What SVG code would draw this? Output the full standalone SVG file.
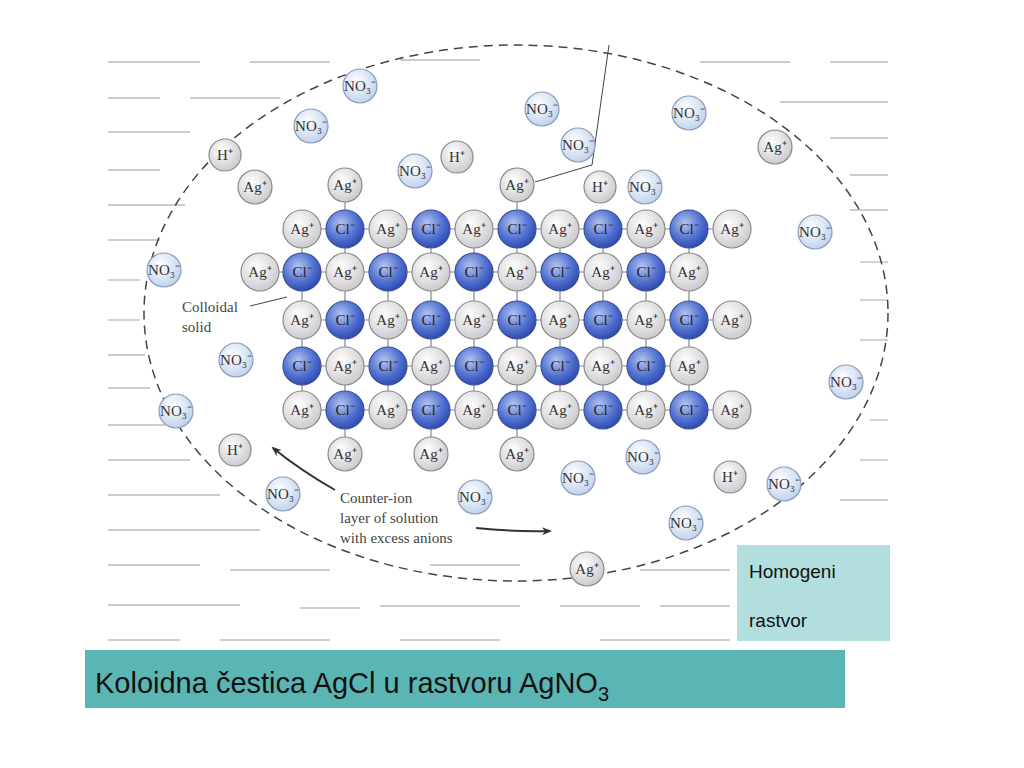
<svg xmlns="http://www.w3.org/2000/svg" width="1024" height="768" viewBox="0 0 1024 768">
<defs>
<radialGradient id="gAg" cx="40%" cy="35%" r="70%"><stop offset="0" stop-color="#ffffff"/><stop offset="1" stop-color="#c8c8cc"/></radialGradient>
<radialGradient id="gCl" cx="40%" cy="35%" r="70%"><stop offset="0" stop-color="#b4c4f0"/><stop offset="0.6" stop-color="#5070d0"/><stop offset="1" stop-color="#2a44a8"/></radialGradient>
<radialGradient id="gNO" cx="40%" cy="35%" r="70%"><stop offset="0" stop-color="#ffffff"/><stop offset="1" stop-color="#bcd0ec"/></radialGradient>
<marker id="ah" markerWidth="10" markerHeight="8" refX="8" refY="4" orient="auto" markerUnits="userSpaceOnUse"><path d="M0,0 L10,4 L0,8 L3,4 Z" fill="#333"/></marker>
<style>
.ag{fill:url(#gAg);stroke:#8a8a8a;stroke-width:1.2}
.cl{fill:url(#gCl);stroke:#3a4f9a;stroke-width:1.2}
.no{fill:url(#gNO);stroke:#8a9cb8;stroke-width:1.2}
.h{fill:url(#gAg);stroke:#8a8a8a;stroke-width:1.2}
.t{font-family:"Liberation Serif",serif;font-size:15px;fill:#333;text-anchor:middle}
.tc{font-family:"Liberation Serif",serif;font-size:15px;fill:#222;text-anchor:middle}
.bg{stroke:#bbb;stroke-width:1.3}
.grid{stroke:#888;stroke-width:1.2}
.lab{font-family:"Liberation Serif",serif;font-size:15px;fill:#444}
</style>
</defs>
<rect width="1024" height="768" fill="#fff"/>
<g id="background-lines" class="bg">
<line x1="108" y1="62" x2="200" y2="62"/><line x1="250" y1="62" x2="330" y2="62"/><line x1="400" y1="60" x2="480" y2="60"/><line x1="700" y1="62" x2="790" y2="62"/><line x1="830" y1="62" x2="888" y2="62"/>
<line x1="108" y1="98" x2="160" y2="98"/><line x1="190" y1="98" x2="280" y2="98"/><line x1="780" y1="102" x2="888" y2="102"/>
<line x1="108" y1="132" x2="190" y2="132"/><line x1="830" y1="138" x2="888" y2="138"/>
<line x1="108" y1="170" x2="160" y2="170"/><line x1="850" y1="175" x2="888" y2="175"/>
<line x1="108" y1="205" x2="185" y2="205"/><line x1="850" y1="210" x2="888" y2="210"/>
<line x1="108" y1="240" x2="160" y2="240"/><line x1="860" y1="262" x2="888" y2="262"/>
<line x1="108" y1="280" x2="140" y2="280"/><line x1="860" y1="300" x2="888" y2="300"/>
<line x1="108" y1="320" x2="140" y2="320"/><line x1="860" y1="340" x2="888" y2="340"/>
<line x1="108" y1="355" x2="145" y2="355"/><line x1="870" y1="420" x2="888" y2="420"/>
<line x1="108" y1="388" x2="150" y2="388"/><line x1="860" y1="460" x2="888" y2="460"/>
<line x1="108" y1="425" x2="165" y2="425"/><line x1="840" y1="500" x2="888" y2="500"/>
<line x1="108" y1="460" x2="190" y2="460"/>
<line x1="108" y1="495" x2="220" y2="495"/>
<line x1="108" y1="530" x2="260" y2="530"/>
<line x1="108" y1="565" x2="200" y2="565"/><line x1="230" y1="570" x2="330" y2="570"/><line x1="430" y1="565" x2="520" y2="565"/><line x1="640" y1="570" x2="730" y2="570"/>
<line x1="108" y1="605" x2="240" y2="605"/><line x1="300" y1="608" x2="360" y2="608"/><line x1="380" y1="606" x2="520" y2="606"/><line x1="560" y1="606" x2="640" y2="606"/><line x1="660" y1="606" x2="730" y2="606"/>
<line x1="108" y1="640" x2="180" y2="640"/><line x1="220" y1="640" x2="330" y2="640"/><line x1="400" y1="640" x2="500" y2="640"/><line x1="600" y1="640" x2="730" y2="640"/>
</g>
<ellipse id="boundary" cx="516" cy="313" rx="372" ry="268" fill="none" stroke="#444" stroke-width="1.5" stroke-dasharray="9,6"/>
<g id="connectors" fill="none">
<g class="grid">
<line x1="302" y1="229" x2="732" y2="229"/><line x1="260" y1="272" x2="689" y2="272"/><line x1="302" y1="320" x2="732" y2="320"/><line x1="302" y1="366" x2="689" y2="366"/><line x1="302" y1="410" x2="732" y2="410"/>
<line x1="302" y1="229" x2="302" y2="410"/><line x1="345" y1="185" x2="345" y2="454"/><line x1="388" y1="229" x2="388" y2="410"/><line x1="431" y1="229" x2="431" y2="454"/><line x1="474" y1="229" x2="474" y2="410"/><line x1="517" y1="185" x2="517" y2="454"/><line x1="560" y1="229" x2="560" y2="410"/><line x1="603" y1="229" x2="603" y2="410"/><line x1="646" y1="229" x2="646" y2="410"/><line x1="689" y1="229" x2="689" y2="410"/><line x1="732" y1="229" x2="732" y2="229"/>
<line x1="732" y1="320" x2="732" y2="320"/>
</g>
<line x1="609" y1="45" x2="592" y2="165" stroke="#444" stroke-width="1"/>
<line x1="592" y1="165" x2="535" y2="182" stroke="#444" stroke-width="1"/>
<line x1="250" y1="306" x2="287" y2="297" stroke="#444" stroke-width="1"/>
<path d="M335,490 Q300,470 273,448" stroke="#333" stroke-width="2" marker-end="url(#ah)"/>
<path d="M476,528 Q515,532 550,531" stroke="#333" stroke-width="2" marker-end="url(#ah)"/>
</g>
<g id="lattice">
<g id="ag1"><circle class="ag" cx="302" cy="229" r="19"/><circle class="cl" cx="345" cy="229" r="19"/><circle class="ag" cx="388" cy="229" r="19"/><circle class="cl" cx="431" cy="229" r="19"/><circle class="ag" cx="474" cy="229" r="19"/><circle class="cl" cx="517" cy="229" r="19"/><circle class="ag" cx="560" cy="229" r="19"/><circle class="cl" cx="603" cy="229" r="19"/><circle class="ag" cx="646" cy="229" r="19"/><circle class="cl" cx="689" cy="229" r="19"/><circle class="ag" cx="732" cy="229" r="19"/></g>
<g id="ag2"><circle class="ag" cx="260" cy="272" r="19"/><circle class="cl" cx="302" cy="272" r="19"/><circle class="ag" cx="345" cy="272" r="19"/><circle class="cl" cx="388" cy="272" r="19"/><circle class="ag" cx="431" cy="272" r="19"/><circle class="cl" cx="474" cy="272" r="19"/><circle class="ag" cx="517" cy="272" r="19"/><circle class="cl" cx="560" cy="272" r="19"/><circle class="ag" cx="603" cy="272" r="19"/><circle class="cl" cx="646" cy="272" r="19"/><circle class="ag" cx="689" cy="272" r="19"/></g>
<g id="ag3"><circle class="ag" cx="302" cy="320" r="19"/><circle class="cl" cx="345" cy="320" r="19"/><circle class="ag" cx="388" cy="320" r="19"/><circle class="cl" cx="431" cy="320" r="19"/><circle class="ag" cx="474" cy="320" r="19"/><circle class="cl" cx="517" cy="320" r="19"/><circle class="ag" cx="560" cy="320" r="19"/><circle class="cl" cx="603" cy="320" r="19"/><circle class="ag" cx="646" cy="320" r="19"/><circle class="cl" cx="689" cy="320" r="19"/><circle class="ag" cx="732" cy="320" r="19"/></g>
<g id="ag4"><circle class="cl" cx="302" cy="366" r="19"/><circle class="ag" cx="345" cy="366" r="19"/><circle class="cl" cx="388" cy="366" r="19"/><circle class="ag" cx="431" cy="366" r="19"/><circle class="cl" cx="474" cy="366" r="19"/><circle class="ag" cx="517" cy="366" r="19"/><circle class="cl" cx="560" cy="366" r="19"/><circle class="ag" cx="603" cy="366" r="19"/><circle class="cl" cx="646" cy="366" r="19"/><circle class="ag" cx="689" cy="366" r="19"/></g>
<g id="ag5"><circle class="ag" cx="302" cy="410" r="19"/><circle class="cl" cx="345" cy="410" r="19"/><circle class="ag" cx="388" cy="410" r="19"/><circle class="cl" cx="431" cy="410" r="19"/><circle class="ag" cx="474" cy="410" r="19"/><circle class="cl" cx="517" cy="410" r="19"/><circle class="ag" cx="560" cy="410" r="19"/><circle class="cl" cx="603" cy="410" r="19"/><circle class="ag" cx="646" cy="410" r="19"/><circle class="cl" cx="689" cy="410" r="19"/><circle class="ag" cx="732" cy="410" r="19"/></g>
<circle class="ag" cx="345" cy="185" r="17"/><circle class="ag" cx="517" cy="185" r="17"/>
<circle class="ag" cx="345" cy="454" r="17"/><circle class="ag" cx="431" cy="454" r="17"/><circle class="ag" cx="517" cy="454" r="17"/>
<g class="t">
<text x="302" y="234">Ag⁺</text><text x="388" y="234">Ag⁺</text><text x="474" y="234">Ag⁺</text><text x="560" y="234">Ag⁺</text><text x="646" y="234">Ag⁺</text><text x="732" y="234">Ag⁺</text>
<text x="260" y="277">Ag⁺</text><text x="345" y="277">Ag⁺</text><text x="431" y="277">Ag⁺</text><text x="517" y="277">Ag⁺</text><text x="603" y="277">Ag⁺</text><text x="689" y="277">Ag⁺</text>
<text x="302" y="325">Ag⁺</text><text x="388" y="325">Ag⁺</text><text x="474" y="325">Ag⁺</text><text x="560" y="325">Ag⁺</text><text x="646" y="325">Ag⁺</text><text x="732" y="325">Ag⁺</text>
<text x="345" y="371">Ag⁺</text><text x="431" y="371">Ag⁺</text><text x="517" y="371">Ag⁺</text><text x="603" y="371">Ag⁺</text><text x="689" y="371">Ag⁺</text>
<text x="302" y="415">Ag⁺</text><text x="388" y="415">Ag⁺</text><text x="474" y="415">Ag⁺</text><text x="560" y="415">Ag⁺</text><text x="646" y="415">Ag⁺</text><text x="732" y="415">Ag⁺</text>
<text x="345" y="190">Ag⁺</text><text x="517" y="190">Ag⁺</text><text x="345" y="459">Ag⁺</text><text x="431" y="459">Ag⁺</text><text x="517" y="459">Ag⁺</text>
</g>
<g class="tc">
<text x="345" y="234">Cl⁻</text><text x="431" y="234">Cl⁻</text><text x="517" y="234">Cl⁻</text><text x="603" y="234">Cl⁻</text><text x="689" y="234">Cl⁻</text>
<text x="302" y="277">Cl⁻</text><text x="388" y="277">Cl⁻</text><text x="474" y="277">Cl⁻</text><text x="560" y="277">Cl⁻</text><text x="646" y="277">Cl⁻</text>
<text x="345" y="325">Cl⁻</text><text x="431" y="325">Cl⁻</text><text x="517" y="325">Cl⁻</text><text x="603" y="325">Cl⁻</text><text x="689" y="325">Cl⁻</text>
<text x="302" y="371">Cl⁻</text><text x="388" y="371">Cl⁻</text><text x="474" y="371">Cl⁻</text><text x="560" y="371">Cl⁻</text><text x="646" y="371">Cl⁻</text>
<text x="345" y="415">Cl⁻</text><text x="431" y="415">Cl⁻</text><text x="517" y="415">Cl⁻</text><text x="603" y="415">Cl⁻</text><text x="689" y="415">Cl⁻</text>
</g>
</g>
<g id="free-ions">
<g class="no">
<circle cx="360" cy="86" r="17"/><circle cx="311" cy="126" r="17"/><circle cx="415" cy="171" r="17"/><circle cx="542" cy="109" r="17"/><circle cx="578" cy="145" r="17"/><circle cx="645" cy="187" r="17"/><circle cx="689" cy="113" r="17"/><circle cx="815" cy="232" r="17"/><circle cx="164" cy="270" r="17"/><circle cx="236" cy="360" r="17"/><circle cx="176" cy="411" r="17"/><circle cx="283" cy="494" r="17"/><circle cx="475" cy="497" r="17"/><circle cx="578" cy="478" r="17"/><circle cx="643" cy="457" r="17"/><circle cx="784" cy="484" r="17"/><circle cx="686" cy="523" r="17"/><circle cx="846" cy="382" r="17"/>
</g>
<g class="h">
<circle cx="225" cy="155" r="16"/><circle cx="457" cy="157" r="16"/><circle cx="600" cy="187" r="16"/><circle cx="235" cy="450" r="16"/><circle cx="730" cy="477" r="16"/>
<circle cx="255" cy="187" r="17"/><circle cx="775" cy="147" r="17"/><circle cx="587" cy="569" r="17"/>
</g>
<g class="t" font-size="14">
<text x="360" y="91">NO₃⁻</text><text x="311" y="131">NO₃⁻</text><text x="415" y="176">NO₃⁻</text><text x="542" y="114">NO₃⁻</text><text x="578" y="150">NO₃⁻</text><text x="645" y="192">NO₃⁻</text><text x="689" y="118">NO₃⁻</text><text x="815" y="237">NO₃⁻</text><text x="164" y="275">NO₃⁻</text><text x="236" y="365">NO₃⁻</text><text x="176" y="416">NO₃⁻</text><text x="283" y="499">NO₃⁻</text><text x="475" y="502">NO₃⁻</text><text x="578" y="483">NO₃⁻</text><text x="643" y="462">NO₃⁻</text><text x="784" y="489">NO₃⁻</text><text x="686" y="528">NO₃⁻</text><text x="846" y="387">NO₃⁻</text>
<text x="225" y="160">H⁺</text><text x="457" y="162">H⁺</text><text x="600" y="192">H⁺</text><text x="235" y="455">H⁺</text><text x="730" y="482">H⁺</text>
<text x="255" y="192">Ag⁺</text><text x="775" y="152">Ag⁺</text><text x="587" y="574">Ag⁺</text>
</g>
</g>
<g id="labels" class="lab">
<text x="182" y="312">Colloidal</text><text x="182" y="332">solid</text>
<text x="340" y="503">Counter-ion</text><text x="340" y="523">layer of solution</text><text x="340" y="543">with excess anions</text>
</g>
<g id="homogeni">
<rect x="737" y="545" width="153" height="96" fill="#b2dede"/>
<text x="749" y="578" font-family="Liberation Sans,sans-serif" font-size="19" fill="#111">Homogeni</text>
<text x="749" y="627" font-family="Liberation Sans,sans-serif" font-size="19" fill="#111">rastvor</text>
</g>
<g id="title">
<rect x="85" y="650" width="760" height="58" fill="#5cb5b5"/>
<text x="95" y="693" font-family="Liberation Sans,sans-serif" font-size="29" fill="#111">Koloidna čestica AgCl u rastvoru AgNO<tspan font-size="20" dy="8">3</tspan></text>
</g>
</svg>
